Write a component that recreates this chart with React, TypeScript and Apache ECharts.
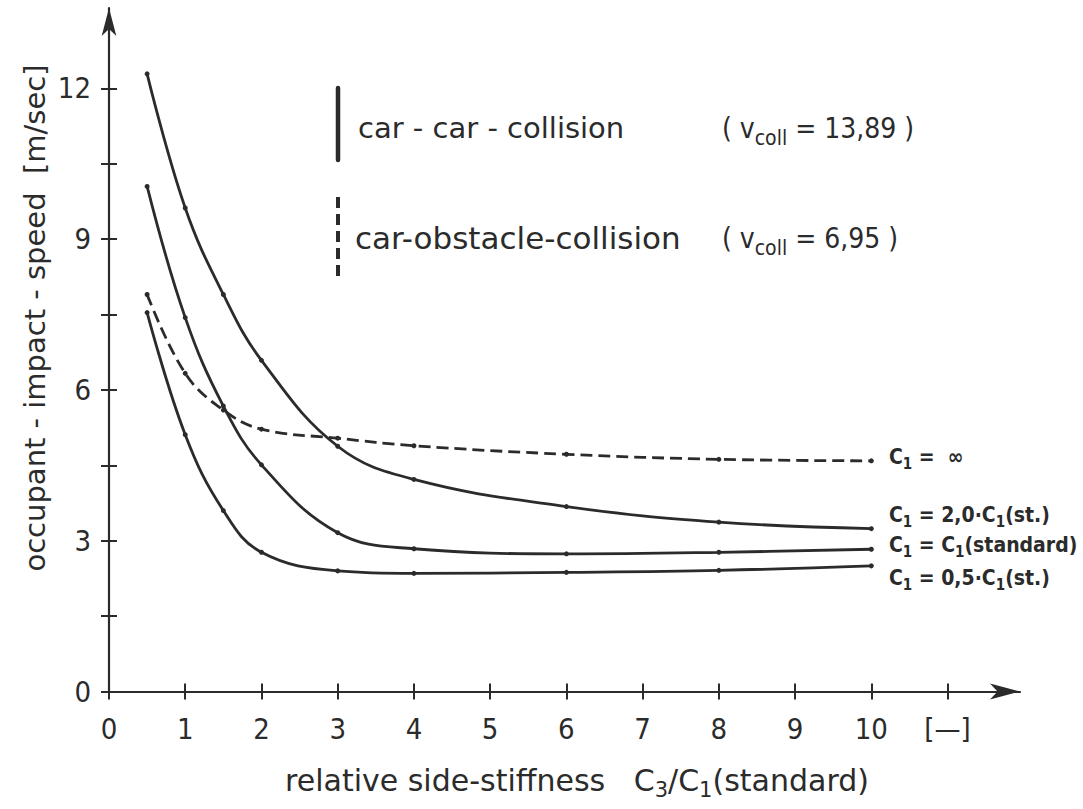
import React, { useEffect, useRef } from 'react';
import * as echarts from 'echarts';

const FONT = "'DejaVu Sans Condensed', 'DejaVu Sans', sans-serif";
const FONT_WIDE = "'DejaVu Sans', sans-serif";
const INK = '#2b2b2b';

// relative side-stiffness C3/C1(standard)
const xValues = [0.5, 1, 1.5, 2, 3, 4, 6, 8, 10];
// occupant-impact-speed [m/sec]
const c1Double = [12.29, 9.62, 7.9, 6.59, 4.88, 4.22, 3.68, 3.37, 3.24];
const c1Standard = [10.05, 7.44, 5.68, 4.51, 3.16, 2.84, 2.74, 2.77, 2.83];
const c1Half = [7.54, 5.11, 3.6, 2.77, 2.4, 2.35, 2.37, 2.41, 2.5];
const c1Infinite = [7.9, 6.33, 5.6, 5.22, 5.04, 4.89, 4.72, 4.62, 4.59];

const xTickValues = [0, 1, 2, 3, 4, 5, 6, 7, 8, 9, 10, 11];
const yTickValues = [0, 1.5, 3, 4.5, 6, 7.5, 9, 10.5, 12];
const yLabelValues = [0, 3, 6, 9, 12];

export default function App() {
  const ref = useRef<HTMLDivElement>(null);

  useEffect(() => {
    const chart = echarts.init(ref.current!, null, { renderer: 'svg' });

    const mk = (name: string, data: number[], dashed: boolean) => ({
      type: 'line',
      name,
      data: xValues.map((x, i) => [x, data[i]]),
      smooth: 0.4,
      symbol: 'circle',
      symbolSize: 5,
      silent: true,
      xAxisIndex: 0,
      yAxisIndex: 0,
      itemStyle: { color: INK },
      lineStyle: { color: INK, width: 2.8, type: dashed ? [12, 6] : 'solid' },
    });

    const sub = { fontSize: 21, fontFamily: FONT_WIDE, fill: INK, padding: [20, 0, 0, 0] };
    const subCond = { fontSize: 21, fontFamily: FONT, fill: INK, padding: [20, 0, 0, 0] };
    const subSmall = { fontSize: 15, fontFamily: FONT, fill: INK, fontWeight: 'bold', padding: [14, 0, 0, 0] };

    const txt = (x: number, y: number, text: string, fontSize: number, extra: any = {}, rich: any = undefined) => ({
      type: 'text',
      x,
      y,
      silent: true,
      style: {
        text,
        fontSize,
        fontFamily: FONT_WIDE,
        fill: INK,
        align: 'left',
        verticalAlign: 'middle',
        textAlign: 'left',
        textVerticalAlign: 'middle',
        rich,
        ...extra,
      },
    });

    const xCommon = {
      type: 'value',
      min: 0,
      max: 11.95,
      interval: 1,
      splitLine: { show: false },
    };
    const yCommon = {
      type: 'value',
      min: 0,
      max: 13.6,
      interval: 1.5,
      splitLine: { show: false },
    };

    chart.setOption({
      animation: false,
      backgroundColor: '#ffffff',
      grid: { left: 109, right: 63, top: 8, bottom: 117.5, containLabel: false },
      xAxis: [
        {
          ...xCommon,
          position: 'bottom',
          axisLine: {
            show: true,
            lineStyle: { color: INK, width: 2.2 },
            symbol: ['none', 'arrow'],
            symbolSize: [12, 30],
          },
          axisTick: { show: true, inside: false, length: 8, customValues: xTickValues, lineStyle: { color: INK, width: 2 } },
          axisLabel: {
            show: true,
            customValues: xTickValues,
            margin: 23,
            fontSize: 29,
            fontFamily: FONT,
            color: INK,
            formatter: (v: number) => (v === 11 ? '[—]' : String(v)),
          },
        },
        {
          ...xCommon,
          position: 'bottom',
          axisLine: { show: false },
          axisTick: { show: true, inside: true, length: 8, customValues: xTickValues, lineStyle: { color: INK, width: 2 } },
          axisLabel: { show: false },
        },
      ],
      yAxis: [
        {
          ...yCommon,
          position: 'left',
          axisLine: {
            show: true,
            lineStyle: { color: INK, width: 2.2 },
            symbol: ['none', 'arrow'],
            symbolSize: [11, 28],
          },
          axisTick: { show: true, inside: false, length: 8, customValues: yTickValues, lineStyle: { color: INK, width: 2 } },
          axisLabel: {
            show: true,
            customValues: yLabelValues,
            margin: 18,
            fontSize: 29,
            fontFamily: FONT,
            color: INK,
          },
        },
        {
          ...yCommon,
          position: 'left',
          axisLine: { show: false },
          axisTick: { show: true, inside: true, length: 8, customValues: yTickValues, lineStyle: { color: INK, width: 2 } },
          axisLabel: { show: false },
        },
      ],
      series: [
        mk('C1 = 2,0·C1(st.)', c1Double, false),
        mk('C1 = C1(standard)', c1Standard, false),
        mk('C1 = 0,5·C1(st.)', c1Half, false),
        mk('C1 = ∞', c1Infinite, true),
      ],
      graphic: [
        // legend marks
        { type: 'line', silent: true, shape: { x1: 338, y1: 88, x2: 338, y2: 160 }, style: { stroke: INK, lineWidth: 4.5, lineCap: 'round' } },
        { type: 'line', silent: true, shape: { x1: 338, y1: 197, x2: 338, y2: 277 }, style: { stroke: INK, lineWidth: 4, lineDash: [11, 6] } },
        txt(358, 128, 'car - car - collision', 29),
        txt(722, 128, '( v{s|coll} = 13,89 )', 28, { fontFamily: FONT }, { s: subCond }),
        txt(355, 238, 'car-obstacle-collision', 31),
        txt(722, 238, '( v{s|coll} = 6,95 )', 28, { fontFamily: FONT }, { s: subCond }),
        // curve labels
        txt(889, 457, 'C{s|1} =  ∞', 21, { fontWeight: 'bold', fontFamily: FONT }, { s: subSmall }),
        txt(889, 515, 'C{s|1} = 2,0·C{s|1}(st.)', 21, { fontWeight: 'bold', fontFamily: FONT }, { s: subSmall }),
        txt(889, 545, 'C{s|1} = C{s|1}(standard)', 21, { fontWeight: 'bold', fontFamily: FONT }, { s: subSmall }),
        txt(889, 578, 'C{s|1} = 0,5·C{s|1}(st.)', 21, { fontWeight: 'bold', fontFamily: FONT }, { s: subSmall }),
        // axis names
        txt(577, 780, 'relative side-stiffness   C{s|3}/C{s|1}(standard)', 30, { align: 'center', textAlign: 'center' }, { s: sub }),
        {
          type: 'text',
          x: 35,
          y: 318,
          rotation: Math.PI / 2,
          silent: true,
          style: {
            text: 'occupant - impact - speed  [m/sec]',
            fontSize: 29,
            fontFamily: FONT_WIDE,
            fill: INK,
            align: 'center',
            verticalAlign: 'middle',
            textAlign: 'center',
            textVerticalAlign: 'middle',
          },
        },
      ],
    });

    return () => chart.dispose();
  }, []);

  return (
    <div
      ref={ref}
      style={{ position: 'absolute', left: 0, top: 0, width: 1083, height: 809, background: '#fff' }}
    />
  );
}
